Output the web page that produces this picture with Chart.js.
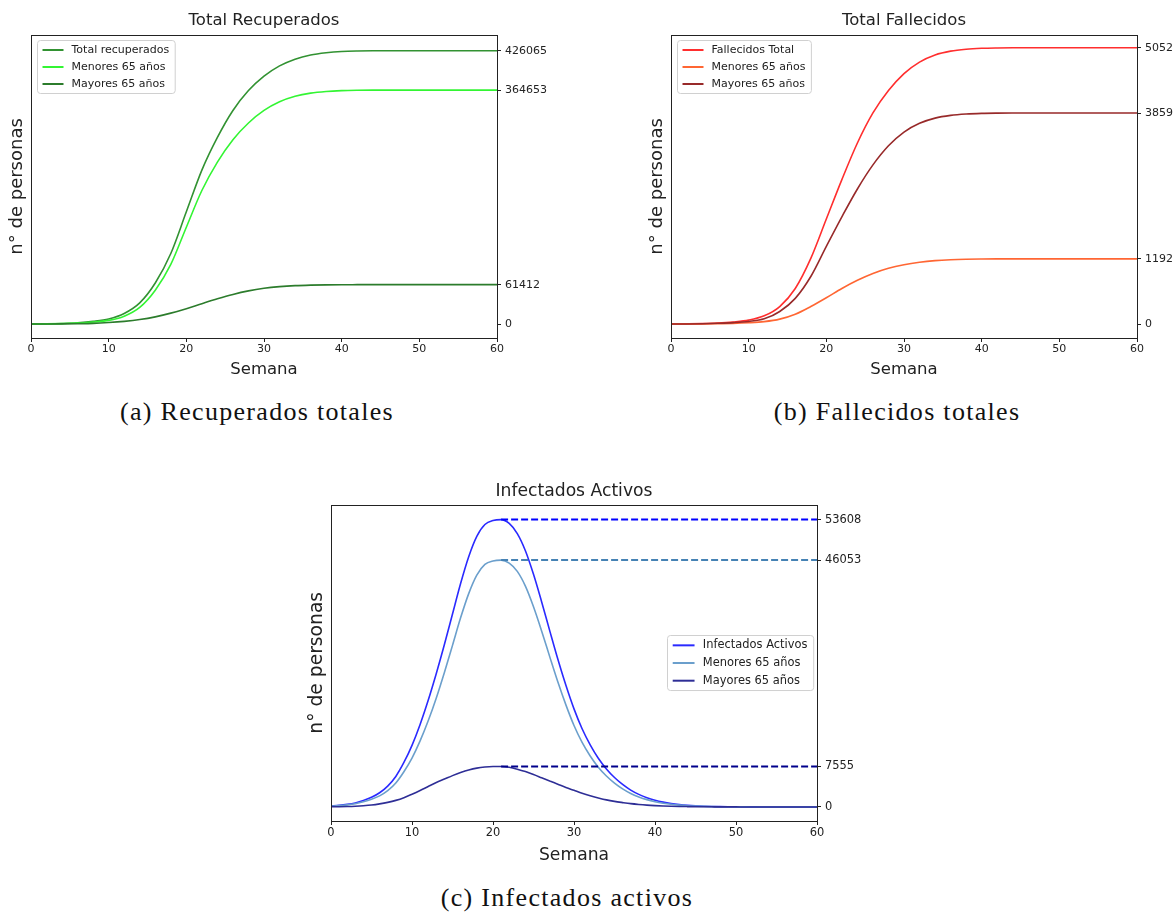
<!DOCTYPE html>
<html>
<head>
<meta charset="utf-8">
<script src="https://cdn.jsdelivr.net/npm/chart.js@4.4.0/dist/chart.umd.min.js"></script>
<style>
  html, body { margin: 0; padding: 0; background: #fff; }
  body { position: relative; width: 1176px; height: 913px; overflow: hidden; }
  canvas { position: absolute; }
  .cap { position: absolute; width: 400px; text-align: center; font-family: "Liberation Serif", serif; font-size: 26px; letter-spacing: 1.3px; line-height: 28px; color: #111; }
</style>
</head>
<body>
<canvas id="chartA" width="632" height="390" style="left:-52px;top:0px;width:632px;height:390px"></canvas>
<canvas id="chartB" width="632" height="390" style="left:588px;top:0px;width:632px;height:390px"></canvas>
<canvas id="chartC" width="600" height="402" style="left:274px;top:471px;width:600px;height:402px"></canvas>
<div class="cap" style="left:57px;top:398px">(a) Recuperados totales</div>
<div class="cap" style="left:697px;top:398px">(b) Fallecidos totales</div>
<div class="cap" style="left:367px;top:884px">(c) Infectados activos</div>

<script>
Chart.defaults.font.family = '"DejaVu Sans", sans-serif';
Chart.defaults.color = '#222';

// semanas (graficos a y b, cada 2 semanas)
const weeksAB = [0, 2, 4, 6, 8, 10, 12, 14, 16, 18, 20, 22, 24, 26, 28, 30,
  32, 34, 36, 38, 40, 42, 44, 46, 48, 50, 52, 54, 56, 58, 60];

// (a) recuperados
const recTotal = [0, 300, 900, 2000, 4200, 8000, 16500, 33000, 64000, 110000, 175000, 240000,
  291000, 333000, 364000, 386500, 402500, 413000, 419500, 423000, 425000, 425800,
  426050, 426065, 426065, 426065, 426065, 426065, 426065, 426065, 426065];
const recMenores = [0, 240, 700, 1500, 3200, 5700, 12300, 26000, 52800, 93000, 151000, 208200,
  252500, 287500, 313500, 333000, 346500, 355000, 360000, 362600, 363900, 364450,
  364640, 364653, 364653, 364653, 364653, 364653, 364653, 364653, 364653];
const recMayores = [0, 60, 200, 500, 1000, 2300, 4200, 7000, 11200, 17000, 24000, 31800,
  39400, 46200, 51700, 55700, 58300, 59900, 60700, 61100, 61300, 61380,
  61405, 61412, 61412, 61412, 61412, 61412, 61412, 61412, 61412];
const recTicks = [0, 61412, 364653, 426065];

// (b) fallecidos
const falTotal = [0, 3, 8, 18, 38, 72, 150, 320, 650, 1200, 1920, 2640,
  3310, 3860, 4270, 4580, 4790, 4920, 4990, 5025, 5042, 5049,
  5052, 5052, 5052, 5052, 5052, 5052, 5052, 5052, 5052];
const falMenores = [0, 1, 3, 7, 12, 24, 45, 90, 180, 320, 480, 650,
  800, 925, 1020, 1085, 1130, 1160, 1177, 1186, 1190, 1192,
  1192, 1192, 1192, 1192, 1192, 1192, 1192, 1192, 1192];
const falMayores = [0, 2, 6, 14, 26, 48, 95, 230, 470, 870, 1420, 1960,
  2470, 2910, 3260, 3510, 3670, 3765, 3815, 3840, 3852, 3857,
  3859, 3859, 3859, 3859, 3859, 3859, 3859, 3859, 3859];
const falTicks = [0, 1192, 3859, 5052];

// (c) infectados activos, semanal
const weeksC = [0, 1, 2, 3, 4, 5, 6, 7, 8, 9, 10, 11, 12, 13, 14, 15, 16, 17, 18, 19, 20,
  21, 22, 23, 24, 25, 26, 27, 28, 29, 30, 31, 32, 33, 34, 35, 36, 37, 38, 39, 40,
  41, 42, 43, 44, 45, 46, 47, 48, 49, 50, 51, 52, 53, 54, 55, 56, 57, 58, 59, 60];
const infTotal = [200, 300, 480, 760, 1200, 1800, 2650, 3900, 5700, 8300, 11500,
  15400, 19900, 24900, 30300, 36000, 41700, 46700, 50500, 52700, 53450,
  53608, 52900, 51000, 47800, 43400, 38300, 32900, 27600, 22700, 18300,
  14600, 11600, 9100, 7100, 5500, 4200, 3150, 2350, 1720, 1250,
  900, 640, 450, 310, 215, 150, 100, 70, 48, 33,
  22, 15, 10, 7, 5, 4, 3, 2, 1, 1];
const infMenores = [170, 250, 390, 610, 960, 1430, 2070, 3040, 4470, 6570, 9120,
  12320, 16070, 20340, 25100, 30150, 35280, 39800, 43250, 45250, 45905,
  46053, 45500, 43950, 41200, 37350, 32850, 28050, 23350, 19050, 15200,
  12050, 9520, 7420, 5780, 4460, 3380, 2530, 1880, 1370, 990,
  710, 500, 350, 235, 160, 110, 70, 48, 32, 21,
  13, 8, 5, 3, 2, 2, 1, 1, 0, 0];
const infMayores = [30, 50, 90, 150, 240, 370, 580, 860, 1230, 1730, 2380,
  3080, 3830, 4560, 5200, 5850, 6420, 6900, 7250, 7450, 7545,
  7555, 7400, 7050, 6600, 6050, 5450, 4850, 4250, 3650, 3100,
  2550, 2080, 1680, 1320, 1040, 820, 620, 470, 350, 260,
  190, 140, 100, 75, 55, 40, 30, 22, 16, 12,
  9, 7, 5, 4, 3, 2, 2, 1, 1, 1];
const infPeakWeek = 21;
const infTicks = [0, 7555, 46053, 53608];

const pts = (xs, ys) => xs.map((x, i) => ({ x: x, y: ys[i] }));

function curve(label, xs, ys, color, order) {
  return { label, data: pts(xs, ys), yAxisID: 'y', borderColor: color, borderWidth: 1.6, pointRadius: 0,
    fill: false, cubicInterpolationMode: 'monotone', inLegend: true, order };
}

function hline(y, color) {
  return { label: '', data: [{ x: infPeakWeek, y: y }, { x: 60, y: y }], yAxisID: 'y', borderColor: color,
    borderWidth: 2, borderDash: [7, 3], pointRadius: 0, fill: false, inLegend: false, order: 0 };
}

// marco negro alrededor del area del grafico
const frame = {
  id: 'frame',
  afterDatasetsDraw(chart) {
    const { ctx, chartArea: a } = chart;
    ctx.save();
    ctx.strokeStyle = '#222';
    ctx.lineWidth = 1;
    const l = Math.round(a.left) + 0.5, t = Math.round(a.top) + 0.5;
    ctx.strokeRect(l, t, Math.round(a.right) - Math.round(a.left), Math.round(a.bottom) - Math.round(a.top));
    ctx.restore();
  }
};

// leyenda con caja, dentro del area
const boxLegend = {
  id: 'boxLegend',
  afterDraw(chart, args, opts) {
    const { ctx, chartArea: a } = chart;
    const k = opts.scale || 1;
    const items = chart.data.datasets.filter(d => d.inLegend);
    ctx.save();
    ctx.font = (11 * k) + 'px "DejaVu Sans"';
    const rowH = 17 * k, lineW = 21 * k, gap = 8 * k, padX = 5 * k, padY = 1;
    const textW = Math.max(...items.map(d => ctx.measureText(d.label).width));
    const w = padX + lineW + gap + textW + 6 * k;
    const h = padY * 2 + rowH * items.length;
    let x, y;
    if (opts.loc === 'center right') {
      x = a.right - 4 - w;
      y = (a.top + a.bottom) / 2 - h / 2;
    } else {
      x = a.left + 6;
      y = a.top + 5;
    }
    x = Math.round(x) + 0.5; y = Math.round(y) + 0.5;
    ctx.fillStyle = 'rgba(255,255,255,0.8)';
    ctx.strokeStyle = '#d0d0d0';
    ctx.lineWidth = 1;
    ctx.beginPath();
    ctx.roundRect(x, y, w, h, 3);
    ctx.fill();
    ctx.stroke();
    items.forEach((d, i) => {
      const cy = y + padY + rowH * i + rowH / 2;
      ctx.strokeStyle = d.borderColor;
      ctx.lineWidth = 2;
      ctx.beginPath();
      ctx.moveTo(x + padX, cy);
      ctx.lineTo(x + padX + lineW, cy);
      ctx.stroke();
      ctx.fillStyle = '#222';
      ctx.textBaseline = 'middle';
      ctx.fillText(d.label, x + padX + lineW + gap, cy);
    });
    ctx.restore();
  }
};

function makeChart(id, cfg) {
  const side = cfg.sideW;
  const k = cfg.fontScale;
  new Chart(document.getElementById(id), {
    type: 'line',
    data: { datasets: cfg.datasets },
    options: {
      responsive: false,
      animation: false,
      devicePixelRatio: 1,
      layout: { padding: 0 },
      plugins: {
        legend: { display: false },
        tooltip: { enabled: false },
        title: { display: true, text: cfg.title, color: '#222',
          font: { size: 16.5 * k, weight: 'normal' }, padding: cfg.titlePad },
        boxLegend: { loc: cfg.legendLoc, scale: k }
      },
      scales: {
        x: {
          type: 'linear', min: 0, max: 60,
          ticks: { stepSize: 10, font: { size: 11 * k }, color: '#222', padding: 1 },
          grid: { drawOnChartArea: false, drawTicks: true, tickLength: 4, color: '#222' },
          border: { display: false },
          title: { display: true, text: 'Semana', font: { size: 16.5 * k }, color: '#222', padding: { top: 0, bottom: cfg.xTitlePad } },
          afterFit: s => { s.height = 52; }
        },
        yl: {
          type: 'linear', position: 'left',
          ticks: { display: false },
          grid: { display: false },
          border: { display: false },
          title: { display: true, text: 'n° de personas', font: { size: 18 * k }, color: '#222', padding: { top: side - 14 - 10.8 * k, bottom: 0 } },
          afterFit: s => { s.width = side; }
        },
        y: {
          type: 'linear', position: 'right', min: cfg.yMin, max: cfg.yMax,
          afterBuildTicks: s => { s.ticks = cfg.yTicks.map(v => ({ value: v })); },
          ticks: { autoSkip: false, font: { size: 11 * k }, color: '#222', padding: 4, callback: v => String(v) },
          grid: { drawOnChartArea: false, drawTicks: true, tickLength: 4, color: '#222' },
          border: { display: false },
          afterFit: s => { s.width = side; }
        }
      }
    },
    plugins: [frame, boxLegend]
  });
}

makeChart('chartA', {
  title: 'Total Recuperados',
  sideW: 83, xTitlePad: 10.4, fontScale: 1, legendLoc: 'upper left',
  titlePad: { top: 11, bottom: 4 },
  yMin: -21770, yMax: 450970, yTicks: recTicks,
  datasets: [
    curve('Total recuperados', weeksAB, recTotal, '#329232', 3),
    curve('Menores 65 años', weeksAB, recMenores, '#33f533', 2),
    curve('Mayores 65 años', weeksAB, recMayores, '#2c7c2c', 1)
  ]
});

makeChart('chartB', {
  title: 'Total Fallecidos',
  sideW: 83, xTitlePad: 10.4, fontScale: 1, legendLoc: 'upper left',
  titlePad: { top: 11, bottom: 4 },
  yMin: -255, yMax: 5289, yTicks: falTicks,
  datasets: [
    curve('Fallecidos Total', weeksAB, falTotal, '#ff2e2e', 3),
    curve('Menores 65 años', weeksAB, falMenores, '#ff6633', 2),
    curve('Mayores 65 años', weeksAB, falMayores, '#982a2a', 1)
  ]
});

makeChart('chartC', {
  title: 'Infectados Activos',
  sideW: 57, xTitlePad: 7.5, fontScale: 1.04, legendLoc: 'center right',
  titlePad: { top: 10, bottom: 3 },
  yMin: -2615, yMax: 56410, yTicks: infTicks,
  datasets: [
    curve('Infectados Activos', weeksC, infTotal, '#2a2aff', 3),
    curve('Menores 65 años', weeksC, infMenores, '#6b9fcc', 2),
    curve('Mayores 65 años', weeksC, infMayores, '#2e2e96', 1),
    hline(infTotal[infPeakWeek], '#0000ff'),
    hline(infMenores[infPeakWeek], '#4682b4'),
    hline(infMayores[infPeakWeek], '#00008b')
  ]
});
</script>
</body>
</html>
